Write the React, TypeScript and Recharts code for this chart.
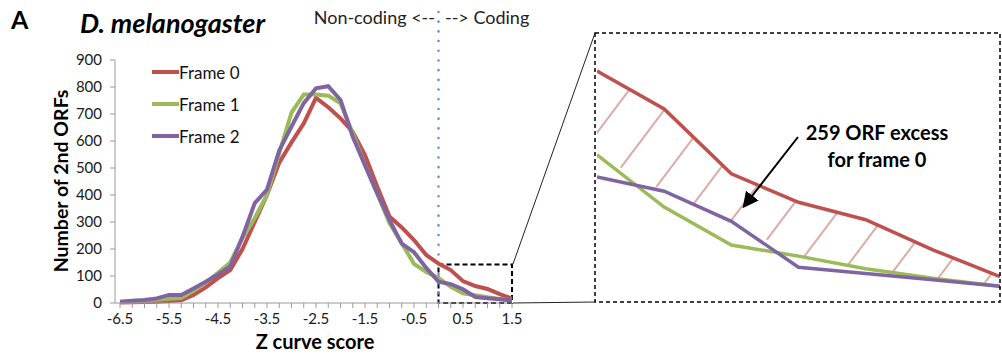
import {
  LineChart,
  ComposedChart,
  Line,
  Area,
  XAxis,
  YAxis,
  ReferenceLine,
  ReferenceArea,
  Legend,
} from "recharts";

// ─── DATA ─────────────────────────────────────────────────────────────────────

const zScores = [
  -6.5, -6.25, -6, -5.75, -5.5, -5.25, -5, -4.75, -4.5, -4.25, -4, -3.75, -3.5,
  -3.25, -3, -2.75, -2.5, -2.25, -2, -1.75, -1.5, -1.25, -1, -0.75, -0.5, -0.25,
  0, 0.25, 0.5, 0.75, 1, 1.25, 1.5,
];

const frame0 = [
  2, 3, 4, 5, 7, 10, 30, 58, 92, 122, 200, 300, 400, 520, 595, 665, 760, 725,
  684, 634, 548, 431, 320, 280, 233, 178, 146, 122, 81, 63, 52, 33, 16,
];

const frame1 = [
  4, 6, 8, 12, 16, 18, 45, 76, 112, 150, 241, 315, 400, 555, 705, 772, 772, 768,
  740, 629, 510, 406, 296, 221, 145, 115, 93, 60, 36, 29, 21, 15, 10,
];

const frame2 = [
  5, 8, 11, 17, 30, 30, 54, 79, 106, 135, 245, 370, 420, 565, 653, 740, 795, 803,
  752, 616, 510, 406, 307, 220, 188, 130, 79, 70, 51, 22, 18, 14, 10,
];

const xTickLabels = [-6.5, -5.5, -4.5, -3.5, -2.5, -1.5, -0.5, 0.5, 1.5];
const yTicks = [0, 100, 200, 300, 400, 500, 600, 700, 800, 900];
const seriesNames = ["Frame 0", "Frame 1", "Frame 2"];

const FRAME_COLORS = ["#c0504d", "#9bbb59", "#8064a2"];
const FONT = 'Lato, "Liberation Sans", sans-serif';

const rows = zScores.map((z, i) => ({
  z,
  f0: frame0[i],
  f1: frame1[i],
  f2: frame2[i],
}));

// inset only shows the coding side, hatched band = frame 0 excess
const insetRows = rows
  .filter((r) => r.z >= 0)
  .map((r) => ({ ...r, excess: [Math.max(r.f1, r.f2), r.f0] }));

// ─── LEGEND ───────────────────────────────────────────────────────────────────

function FrameLegend({ payload }: { payload?: Array<{ value: string; color: string }> }) {
  if (!payload) return null;
  return (
    <div style={{ fontFamily: FONT }}>
      {payload.map((p) => (
        <div key={p.value} style={{ display: "flex", alignItems: "center", height: 32 }}>
          <span style={{ width: 27, height: 4, background: p.color, display: "inline-block" }} />
          <span style={{ fontSize: 17, color: "#111", marginLeft: 0 }}>{p.value}</span>
        </div>
      ))}
    </div>
  );
}

// ─── MAIN ─────────────────────────────────────────────────────────────────────

export default function App() {
  return (
    <div
      style={{
        position: "absolute",
        left: 0,
        top: 0,
        width: 1002,
        height: 362,
        background: "#fff",
        fontFamily: FONT,
      }}
    >
      {/* main distribution chart */}
      <div style={{ position: "absolute", left: 0, top: 0 }}>
        <LineChart
          width={600}
          height={362}
          data={rows}
          margin={{ top: 60, right: 88, bottom: 0, left: 0 }}
        >
          <XAxis
            dataKey="z"
            type="number"
            domain={[-6.5, 1.5]}
            ticks={zScores}
            interval={0}
            padding={{ left: 5, right: 0 }}
            height={59}
            tickSize={5}
            tickMargin={5}
            stroke="#9a9a9a"
            tick={{ fontSize: 15, fill: "#1a1a1a", fontFamily: FONT }}
            tickFormatter={(v: number) => (xTickLabels.includes(v) ? String(v) : "")}
          />
          <YAxis
            type="number"
            domain={[0, 900]}
            ticks={yTicks}
            interval={0}
            width={115}
            tickSize={5}
            tickMargin={8}
            stroke="#9a9a9a"
            tick={{ fontSize: 15, fill: "#1a1a1a", fontFamily: FONT }}
          />
          {/* centered/middle so the legend takes no room from the plot */}
          <Legend
            layout="vertical"
            verticalAlign="middle"
            align="center"
            wrapperStyle={{ left: 152, top: 56, width: 120 }}
            content={<FrameLegend />}
          />
          {/* boundary between non-coding and coding */}
          <ReferenceLine
            segment={[
              { x: 0, y: 0 },
              { x: 0, y: 1100 },
            ]}
            ifOverflow="visible"
            stroke="#5b8fd6"
            strokeWidth={2.5}
            strokeDasharray="0.1 9.6"
            strokeLinecap="round"
          />
          <Line
            dataKey="f0"
            name={seriesNames[0]}
            stroke={FRAME_COLORS[0]}
            strokeWidth={4}
            dot={false}
            type="linear"
            isAnimationActive={false}
          />
          <Line
            dataKey="f1"
            name={seriesNames[1]}
            stroke={FRAME_COLORS[1]}
            strokeWidth={4}
            dot={false}
            type="linear"
            isAnimationActive={false}
          />
          <Line
            dataKey="f2"
            name={seriesNames[2]}
            stroke={FRAME_COLORS[2]}
            strokeWidth={4}
            dot={false}
            type="linear"
            isAnimationActive={false}
          />
          <ReferenceArea
            x1={0}
            x2={1.5}
            y1={0}
            y2={143}
            fill="none"
            stroke="#000"
            strokeWidth={2}
            strokeDasharray="5 3"
            ifOverflow="visible"
          />
        </LineChart>
      </div>

      {/* zoomed inset */}
      <div style={{ position: "absolute", left: 597, top: 33 }}>
        <ComposedChart
          width={403}
          height={269}
          data={insetRows}
          margin={{ top: 0, right: 0, bottom: 0, left: 0 }}
        >
          <defs>
            <pattern
              id="excessHatch"
              patternUnits="userSpaceOnUse"
              width="40"
              height="40"
              patternTransform="rotate(37)"
            >
              <line x1="20" y1="0" x2="20" y2="40" stroke="#d9a19b" strokeWidth="1.8" />
            </pattern>
          </defs>
          <XAxis dataKey="z" type="number" domain={[0, 1.5]} hide />
          <YAxis type="number" domain={[0, 170]} hide />
          <Area
            dataKey="excess"
            type="linear"
            stroke="none"
            fill="url(#excessHatch)"
            fillOpacity={1}
            isAnimationActive={false}
          />
          <Line dataKey="f1" stroke={FRAME_COLORS[1]} strokeWidth={3.5} dot={false} type="linear" isAnimationActive={false} />
          <Line dataKey="f2" stroke={FRAME_COLORS[2]} strokeWidth={3.5} dot={false} type="linear" isAnimationActive={false} />
          <Line dataKey="f0" stroke={FRAME_COLORS[0]} strokeWidth={3.5} dot={false} type="linear" isAnimationActive={false} />
        </ComposedChart>
      </div>

      {/* labels, inset frame, connectors */}
      <svg
        width={1002}
        height={362}
        style={{ position: "absolute", left: 0, top: 0, pointerEvents: "none" }}
        fontFamily={FONT}
      >
        <defs>
          <marker id="arrowHead" markerWidth="8" markerHeight="8" refX="6" refY="4" orient="auto">
            <path d="M0,0 L8,4 L0,8 z" fill="#000" />
          </marker>
        </defs>
        <text x={11} y={29} fontSize={25} fontWeight={700} fill="#000">A</text>
        <text x={80} y={33} fontSize={27} fontWeight={700} fontStyle="italic" fill="#000">
          D. melanogaster
        </text>
        <text x={435} y={24} fontSize={18} textAnchor="end" fill="#222">Non-coding &lt;--</text>
        <text x={445} y={24} fontSize={18} fill="#222">--&gt; Coding</text>
        <text
          x={0}
          y={0}
          transform="translate(68,181) rotate(-90)"
          fontSize={19.5}
          fontWeight={700}
          textAnchor="middle"
          fill="#000"
        >
          Number of 2nd ORFs
        </text>
        <text x={315} y={349} fontSize={20} fontWeight={700} textAnchor="middle" fill="#000">
          Z curve score
        </text>

        {/* inset frame and connectors */}
        <rect x={595} y={33} width={405} height={269} fill="none" stroke="#000" strokeWidth={1.5} strokeDasharray="4 3" />
        <line x1={513} y1={264} x2={595} y2={33} stroke="#222" strokeWidth={1} />
        <line x1={513} y1={303} x2={595} y2={302} stroke="#222" strokeWidth={1} />

        <text x={877} y={140} fontSize={20} fontWeight={700} textAnchor="middle" fill="#000">
          259 ORF excess
        </text>
        <text x={877} y={167} fontSize={20} fontWeight={700} textAnchor="middle" fill="#000">
          for frame 0
        </text>
        <line x1={798} y1={137} x2={745} y2={205} stroke="#000" strokeWidth={2} markerEnd="url(#arrowHead)" />
      </svg>
    </div>
  );
}
